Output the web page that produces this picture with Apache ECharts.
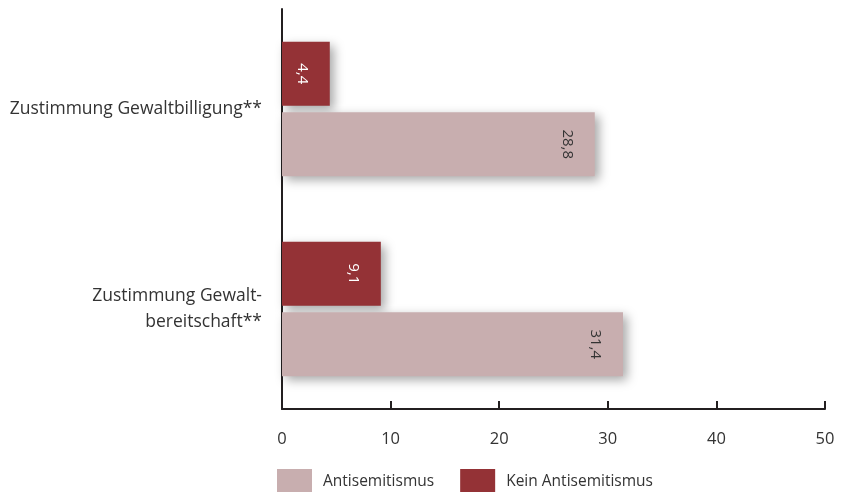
<!DOCTYPE html>
<html>
<head>
<meta charset="utf-8">
<script src="https://cdn.jsdelivr.net/npm/echarts@6/dist/echarts.min.js"></script>
<style>html,body{margin:0;padding:0;background:#fff}#c{width:844px;height:492px}</style>
</head>
<body>
<div id="c"></div>
<script>
const categories = ['Zustimmung Gewalt-\nbereitschaft**', 'Zustimmung Gewaltbilligung**'];
const seriesNames = ['Antisemitismus', 'Kein Antisemitismus'];
const antisemitismus = [31.4, 28.8];
const keinAntisemitismus = [9.1, 4.4];
const xTicks = [0, 10, 20, 30, 40, 50];

const FONT = '"Open Sans", "Noto Sans", sans-serif';
const shadow = { shadowColor: 'rgba(0,0,0,0.35)', shadowBlur: 10, shadowOffsetX: 4, shadowOffsetY: 4 };
const fmt = p => String(p.value).replace('.', ',');

const chart = echarts.init(document.getElementById('c'), null, { renderer: 'canvas' });
chart.setOption({
  animation: false,
  textStyle: { fontFamily: FONT },
  grid: { left: 282, right: 19, top: 9, bottom: 83 },
  legend: {
    left: 272, top: 464,
    itemWidth: 35, itemHeight: 26, itemGap: 26,
    icon: 'rect',
    textStyle: { fontFamily: FONT, fontSize: 15.5, color: '#333', padding: [0, 0, 0, 6] },
    data: seriesNames
  },
  xAxis: {
    type: 'value', min: xTicks[0], max: xTicks[xTicks.length - 1], interval: 10,
    axisLine: { show: true, lineStyle: { color: '#231f20', width: 2 } },
    axisTick: { show: true, inside: true, length: 8, lineStyle: { color: '#231f20', width: 2 } },
    axisLabel: { fontFamily: FONT, fontSize: 16.5, color: '#333', margin: 22 },
    splitLine: { show: false }
  },
  yAxis: {
    type: 'category', data: categories,
    axisLine: { show: true, lineStyle: { color: '#231f20', width: 2 } },
    axisTick: { show: false },
    axisLabel: { fontFamily: FONT, fontSize: 17.5, color: '#333', margin: 20, lineHeight: 26, align: 'right' }
  },
  series: [
    {
      name: seriesNames[1], type: 'bar', data: keinAntisemitismus,
      barWidth: 64, barGap: '10%',
      itemStyle: Object.assign({ color: '#943236' }, shadow),
      label: { show: true, position: 'insideRight', distance: 28, rotate: -90, align: 'center', verticalAlign: 'middle',
               fontFamily: FONT, fontSize: 15, color: '#fff', formatter: fmt }
    },
    {
      name: seriesNames[0], type: 'bar', data: antisemitismus,
      barWidth: 64, barGap: '10%',
      itemStyle: Object.assign({ color: '#c8aeaf' }, shadow),
      label: { show: true, position: 'insideRight', distance: 28, rotate: -90, align: 'center', verticalAlign: 'middle',
               fontFamily: FONT, fontSize: 15, color: '#333', formatter: fmt }
    }
  ]
});
</script>
</body>
</html>
